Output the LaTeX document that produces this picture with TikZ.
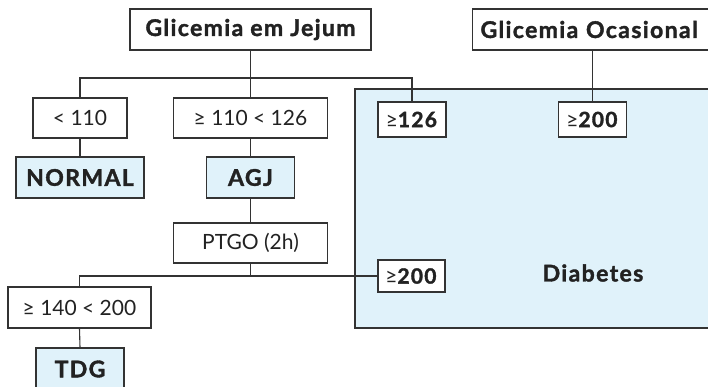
\documentclass[tikz,border=0pt]{standalone}
\usepackage{fontspec}
\setmainfont{Lato}[BoldFeatures={FakeBold=1.6,LetterSpace=6}]
\definecolor{lblue}{HTML}{E0F2FA}
\definecolor{lin}{HTML}{333333}
\definecolor{txt}{HTML}{222222}
\begin{document}
\begin{tikzpicture}[x=1pt,y=-1pt,
  box/.style={draw=lin,line width=1.1pt,fill=white,inner sep=0pt,text=txt,font=\fontsize{21}{24}\selectfont},
  bbox/.style={box,font=\fontsize{23}{26}\selectfont\bfseries},
  res/.style={bbox,fill=lblue},
  conn/.style={draw=lin,line width=1.1pt}]
\useasboundingbox (0,0) rectangle (708,386);
\begin{scope}
\clip (0,0) rectangle (708,386);
\fill[lblue,draw=lin,line width=1.1pt] (355,89) rectangle (716,328);
\node[bbox,minimum width=241pt,minimum height=41pt] (gj) at (250.5,29.5) {Glicemia em Jejum};
\node[bbox,minimum width=240pt,minimum height=41pt,text width=236pt,align=left] (go) at (592.5,29.5) {\hspace*{6pt}Glicemia Ocasional};
\node[box,minimum width=94pt,minimum height=40pt] (lt110) at (80,118) {< 110};
\node[box,minimum width=154pt,minimum height=40pt] (ge110) at (250.5,118) {≥ 110 < 126};
\node[box,minimum width=68pt,minimum height=35pt] (ge126) at (412,119.5) {≥\textbf{126}};
\node[box,minimum width=68pt,minimum height=35pt] (ge200a) at (592.5,119.5) {≥\textbf{200}};
\node[res,minimum width=128pt,minimum height=41pt] (normal) at (80,177.5) {NORMAL};
\node[res,minimum width=88pt,minimum height=41pt] (agj) at (250.5,177.5) {AGJ};
\node[box,minimum width=154pt,minimum height=40pt] (ptgo) at (250.5,243) {PTGO (2h)};
\node[box,minimum width=67pt,minimum height=32pt] (ge200b) at (411.5,276) {≥\textbf{200}};
\node[box,minimum width=143pt,minimum height=41pt] (ge140) at (79.5,307.5) {≥ 140 < 200};
\node[res,minimum width=88pt,minimum height=42pt] (tdg) at (80,369) {TDG};
\node[text=txt,inner sep=0pt,font=\fontsize{23}{26}\selectfont\bfseries] (diab) at (593,273) {Diabetes};
\coordinate (b1) at (250.5,78);
\coordinate (b2) at (250.5,276);
\draw[conn] (gj.south) -- (b1);
\draw[conn] (lt110.north) |- (b1) -| (ge126.north);
\draw[conn] (b1) -- (ge110.north);
\draw[conn] (go.south) -- (ge200a.north);
\draw[conn] (lt110.south) -- (normal.north);
\draw[conn] (ge110.south) -- (agj.north);
\draw[conn] (agj.south) -- (ptgo.north);
\draw[conn] (ptgo.south) -- (b2);
\draw[conn] (ge140.north) |- (ge200b.west);
\draw[conn] (ge140.south) -- (tdg.north);
\end{scope}
\end{tikzpicture}
\end{document}
